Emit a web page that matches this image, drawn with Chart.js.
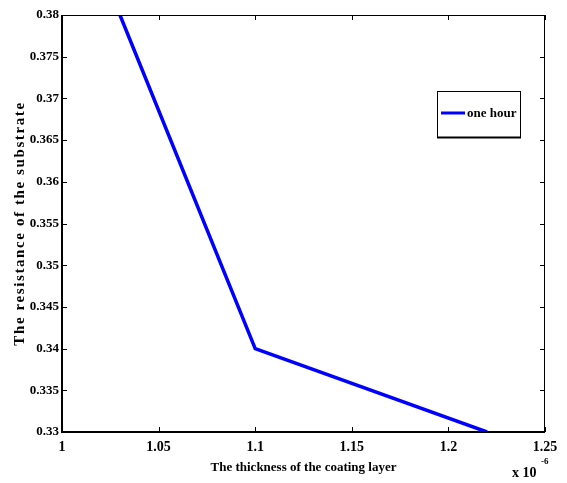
<!DOCTYPE html>
<html>
<head>
<meta charset="utf-8">
<title>Resistance vs coating thickness</title>
<script src="https://cdn.jsdelivr.net/npm/chart.js@4.4.1/dist/chart.umd.min.js"></script>
<style>
  html, body { margin: 0; padding: 0; background: #fff; }
  #wrap { width: 567px; height: 483px; position: relative; }
</style>
</head>
<body>
<div id="wrap"><canvas id="chart"></canvas></div>
<script>
// thickness of the coating layer, in units of 1e-6
const thickness = [1.03, 1.1, 1.22];
// resistance of the substrate
const resistance = [0.38, 0.34, 0.33];
const seriesName = 'one hour';
const yTitle = 'The resistance of the substrate';

const xTicks = [1, 1.05, 1.1, 1.15, 1.2, 1.25];
const yTicks = [0.33, 0.335, 0.34, 0.345, 0.35, 0.355, 0.36, 0.365, 0.37, 0.375, 0.38];

const serif = "'Liberation Serif', 'Times New Roman', serif";
const blue = 'rgb(0,0,255)';

// matlab style box, inward ticks, legend, y title and exponent label
const matlabAxes = {
  id: 'matlabAxes',
  afterDraw(chart) {
    const ctx = chart.ctx;
    const a = chart.chartArea;
    const xs = chart.scales.x, ys = chart.scales.y;
    ctx.save();
    ctx.strokeStyle = '#000';

    ctx.lineWidth = 1;
    ctx.beginPath();
    ctx.moveTo(a.left, a.top + 0.5); ctx.lineTo(a.right, a.top + 0.5);
    ctx.moveTo(a.right - 0.5, a.top); ctx.lineTo(a.right - 0.5, a.bottom);
    ctx.stroke();
    ctx.lineWidth = 2;
    ctx.beginPath();
    ctx.moveTo(a.left, a.top); ctx.lineTo(a.left, a.bottom);
    ctx.lineTo(a.right, a.bottom);
    ctx.stroke();

    ctx.lineWidth = 1;
    ctx.beginPath();
    const tl = 5;
    xTicks.forEach(v => {
      const px = Math.round(xs.getPixelForValue(v)) + 0.5;
      ctx.moveTo(px, a.bottom); ctx.lineTo(px, a.bottom - tl);
      ctx.moveTo(px, a.top); ctx.lineTo(px, a.top + tl);
    });
    yTicks.forEach(v => {
      const py = Math.round(ys.getPixelForValue(v)) + 0.5;
      ctx.moveTo(a.left, py); ctx.lineTo(a.left + tl, py);
      ctx.moveTo(a.right, py); ctx.lineTo(a.right - tl, py);
    });
    ctx.stroke();

    // legend
    const lx = 437, ly = 91, lw = 83, lh = 46;
    ctx.fillStyle = '#fff';
    ctx.fillRect(lx, ly, lw, lh);
    ctx.lineWidth = 1;
    ctx.strokeRect(lx + 0.5, ly + 0.5, lw, lh);
    ctx.lineWidth = 2;
    ctx.beginPath();
    ctx.moveTo(lx, ly + lh + 0.5); ctx.lineTo(lx + lw + 1, ly + lh + 0.5);
    ctx.stroke();
    ctx.strokeStyle = blue;
    ctx.lineWidth = 3;
    ctx.beginPath();
    ctx.moveTo(441, 113); ctx.lineTo(465, 113);
    ctx.stroke();
    ctx.fillStyle = '#000';
    ctx.font = 'bold 13px ' + serif;
    ctx.textBaseline = 'middle';
    ctx.textAlign = 'left';
    ctx.fillText(seriesName, 467, 114);

    // exponent
    ctx.font = 'bold 14px ' + serif;
    ctx.fillText('x 10', 512, 473);
    ctx.font = 'bold 9px ' + serif;
    ctx.fillText('-6', 541, 462);

    // y title, letter spaced like the original
    ctx.translate(20, (a.top + a.bottom) / 2);
    ctx.rotate(-Math.PI / 2);
    ctx.font = 'bold 15px ' + serif;
    ctx.letterSpacing = '1.6px';
    ctx.textAlign = 'center';
    ctx.fillText(yTitle, 0, 0);
    ctx.restore();
  }
};

new Chart(document.getElementById('chart'), {
  type: 'line',
  data: {
    datasets: [{
      label: seriesName,
      data: thickness.map((t, i) => ({ x: t, y: resistance[i] })),
      borderColor: blue,
      borderWidth: 3.5,
      pointRadius: 0,
      tension: 0,
      fill: false
    }]
  },
  options: {
    responsive: true,
    maintainAspectRatio: false,
    animation: false,
    layout: { padding: { top: 15, right: 22, left: 0, bottom: 0 } },
    plugins: {
      legend: { display: false },
      tooltip: { enabled: false }
    },
    scales: {
      x: {
        type: 'linear',
        min: 1,
        max: 1.25,
        afterFit: s => { s.height = 51; },
        afterBuildTicks: s => { s.ticks = xTicks.map(v => ({ value: v })); },
        grid: { display: false, drawTicks: false },
        border: { display: false },
        ticks: {
          padding: 7,
          color: '#000',
          font: { family: serif, size: 14, weight: 'bold' },
          maxRotation: 0,
          callback: v => String(Number(v.toFixed(2)))
        },
        title: {
          display: true,
          text: 'The thickness of the coating layer',
          color: '#000',
          font: { family: serif, size: 13, weight: 'bold' },
          padding: { top: 0, bottom: 8 }
        }
      },
      y: {
        min: 0.33,
        max: 0.38,
        afterFit: s => { s.width = 62; },
        afterBuildTicks: s => { s.ticks = yTicks.map(v => ({ value: v })); },
        grid: { display: false, drawTicks: false },
        border: { display: false },
        ticks: {
          padding: 3,
          color: '#000',
          font: { family: serif, size: 13, weight: 'bold' },
          callback: v => String(Number(v.toFixed(3)))
        },
        title: { display: false }
      }
    }
  },
  plugins: [matlabAxes]
});
</script>
</body>
</html>
